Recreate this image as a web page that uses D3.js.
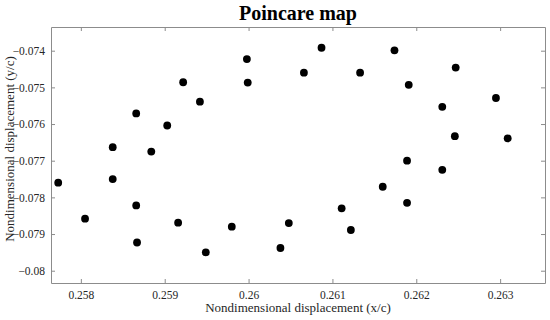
<!DOCTYPE html>
<html>
<head>
<meta charset="utf-8">
<script src="https://cdn.jsdelivr.net/npm/d3@7"></script>
<style>
  body { margin: 0; background: #fff; }
  svg text { font-family: "Liberation Serif", "Times New Roman", serif; }
</style>
</head>
<body>
<script>
// chart values
var xs = [0.25773, 0.25805, 0.25838, 0.25838, 0.25866, 0.25866, 0.25867, 0.25884,
          0.25903, 0.25922, 0.25916, 0.25942, 0.25949, 0.25980, 0.25998, 0.25999,
          0.26038, 0.26048, 0.26066, 0.26087, 0.26111, 0.26122, 0.26133, 0.26160,
          0.26174, 0.26191, 0.26189, 0.26189, 0.26231, 0.26231, 0.26247, 0.26246,
          0.26295, 0.26309];
var ys = [-0.07760, -0.07858, -0.07663, -0.07750, -0.07571, -0.07822, -0.07923, -0.07675,
          -0.07604, -0.07486, -0.07869, -0.07539, -0.07950, -0.07880, -0.07423, -0.07487,
          -0.07938, -0.07870, -0.07460, -0.07392, -0.07830, -0.07889, -0.07460, -0.07771,
          -0.07399, -0.07493, -0.07700, -0.07815, -0.07553, -0.07725, -0.07446, -0.07633,
          -0.07529, -0.07639];
var xTicks = [0.258, 0.259, 0.260, 0.261, 0.262, 0.263];
var yTicks = [-0.074, -0.075, -0.076, -0.077, -0.078, -0.079, -0.080];

var W = 550, H = 320;
var margin = {top: 27, right: 5, bottom: 37, left: 51},
    width = W - margin.left - margin.right,
    height = H - margin.top - margin.bottom;

var svg = d3.select("body").append("svg")
    .attr("width", W)
    .attr("height", H);

var g = svg.append("g")
    .attr("transform", "translate(" + margin.left + "," + margin.top + ")");

var x = d3.scaleLinear().domain([0.257644, 0.263535]).range([0, width]);
var y = d3.scaleLinear().domain([-0.080335, -0.073354]).range([height, 0]);

var fmt = function(d) { return d3.format("")(+d.toFixed(3)); };

// axes with inward ticks, MATLAB box style
var xAxis = g.append("g")
    .attr("transform", "translate(0," + height + ")")
    .call(d3.axisBottom(x).tickValues(xTicks).tickFormat(fmt).tickSizeInner(-4).tickSizeOuter(0).tickPadding(8));
var yAxis = g.append("g")
    .call(d3.axisLeft(y).tickValues(yTicks).tickFormat(fmt).tickSizeInner(-4).tickSizeOuter(0).tickPadding(6));
var xTop = g.append("g")
    .call(d3.axisTop(x).tickValues(xTicks).tickFormat("").tickSizeInner(-4).tickSizeOuter(0));
var yRight = g.append("g")
    .attr("transform", "translate(" + width + ",0)")
    .call(d3.axisRight(y).tickValues(yTicks).tickFormat("").tickSizeInner(-4).tickSizeOuter(0));

[xAxis, yAxis, xTop, yRight].forEach(function(a) {
    a.selectAll("path.domain").attr("stroke", "#8c8c8c");
    a.selectAll(".tick line").attr("stroke", "#8c8c8c");
    a.selectAll(".tick text").attr("fill", "#262626").style("font-size", "11.5px");
});

g.selectAll("circle")
    .data(xs)
    .enter()
    .append("circle")
    .attr("cx", function(d) { return x(d); })
    .attr("cy", function(d, i) { return y(ys[i]); })
    .attr("r", 3.9)
    .attr("fill", "#000");

svg.append("text")
    .attr("x", margin.left + width / 2)
    .attr("y", 20)
    .attr("text-anchor", "middle")
    .style("font-size", "20px")
    .style("font-weight", "bold")
    .text("Poincare map");

svg.append("text")
    .attr("x", margin.left + width / 2)
    .attr("y", 312)
    .attr("text-anchor", "middle")
    .attr("fill", "#262626")
    .style("font-size", "13px")
    .text("Nondimensional displacement (x/c)");

svg.append("text")
    .attr("transform", "translate(14,149) rotate(-90)")
    .attr("text-anchor", "middle")
    .attr("fill", "#262626")
    .style("font-size", "13px")
    .text("Nondimensional displacement (y/c)");
</script>
</body>
</html>
